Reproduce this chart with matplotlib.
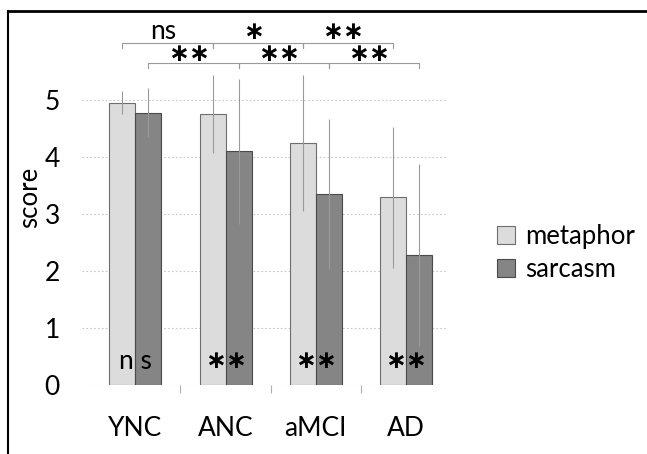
import matplotlib
matplotlib.use("Agg")
import matplotlib.pyplot as plt
from matplotlib.lines import Line2D
import numpy as np

plt.rcParams['font.family'] = ['Lato', 'DejaVu Sans']

groups = ['YNC', 'ANC', 'aMCI', 'AD']
metaphor = [4.95, 4.75, 4.25, 3.29]
sarcasm = [4.78, 4.10, 3.35, 2.28]
metaphor_sd = [0.20, 0.68, 1.19, 1.24]
sarcasm_sd = [0.43, 1.27, 1.32, 1.60]

# between-group comparisons (upper row: metaphor, lower row: sarcasm)
metaphor_sig = ['ns', '*', '**']
sarcasm_sig = ['**', '**', '**']
# within-group metaphor vs sarcasm
within_sig = ['n s', '**', '**', '**']

fig = plt.figure(figsize=(6.47, 4.54), dpi=100)
ax = fig.add_axes([0.127, 0.152, 0.566, 0.8286])

x = np.arange(len(groups))
w = 0.288
ax.bar(x - w / 2, metaphor, w, color='#dcdcdc', edgecolor='#6e6e6e',
       linewidth=0.8, label='metaphor', zorder=2)
ax.bar(x + w / 2, sarcasm, w, color='#858585', edgecolor='#4a4a4a',
       linewidth=0.8, label='sarcasm', zorder=2)
ax.errorbar(x - w / 2, metaphor, yerr=metaphor_sd, fmt='none',
            ecolor='#9a9a9a', elinewidth=0.8, capsize=0, zorder=3)
ax.errorbar(x + w / 2, sarcasm, yerr=sarcasm_sd, fmt='none',
            ecolor='#9a9a9a', elinewidth=0.8, capsize=0, zorder=3)

ax.set_xlim(-0.59, 3.47)
ax.set_ylim(0, 6.6)
ax.set_yticks(range(6))
ax.set_xticks(x)
ax.set_xticklabels(groups)
ax.set_xticks([0.5, 1.5, 2.5], minor=True)
ax.tick_params(axis='both', which='major', length=0, labelsize=19)
ax.tick_params(axis='y', pad=16)
ax.tick_params(axis='x', pad=22)
ax.tick_params(axis='x', which='minor', length=6, color='#b0b0b0', width=0.8)
for s in ax.spines.values():
    s.set_visible(False)
ax.yaxis.grid(True, color='#c8c8c8', linestyle=(0, (1.5, 2)), linewidth=0.8)
ax.set_axisbelow(True)
ax.set_ylabel('score', fontsize=18.5, labelpad=2)


def sig_text(xc, y, label):
    if '*' in label:
        ax.text(xc, y, label.replace('*', '\u2217'), ha='center', va='center',
                fontsize=18, fontweight='bold', family='DejaVu Sans',
                clip_on=False, zorder=5)
    else:
        ax.text(xc, y, label, ha='center', va='center', fontsize=19,
                clip_on=False, zorder=5)


def bracket(x0, x1, y, label, ly):
    ax.plot([x0, x0, x1, x1], [y - 0.09, y, y, y - 0.09], color='#9a9a9a',
            linewidth=0.8, clip_on=False, zorder=4)
    sig_text((x0 + x1) / 2 - 0.05, ly, label)


for i, lab in enumerate(metaphor_sig):
    bracket(i - w / 2, i + 1 - w / 2, 6.0, lab, 6.2)
for i, lab in enumerate(sarcasm_sig):
    bracket(i + w / 2, i + 1 + w / 2, 5.65, lab, 5.8)

for i, lab in enumerate(within_sig):
    sig_text(i, 0.42, lab)

ax.legend(loc='center left', bbox_to_anchor=(0.768, 0.443),
          bbox_transform=fig.transFigure, frameon=False,
          fontsize=18.5, handlelength=0.7, handleheight=0.7,
          handletextpad=0.4, labelspacing=0.3, borderaxespad=0, borderpad=0)

fig.add_artist(Line2D([0.012, 1.0], [0.976, 0.976], color='black',
                      linewidth=2, transform=fig.transFigure))
fig.add_artist(Line2D([0.012, 0.012], [0.0, 0.976], color='black',
                      linewidth=1.5, transform=fig.transFigure))

fig.savefig('out.png', dpi=100)
